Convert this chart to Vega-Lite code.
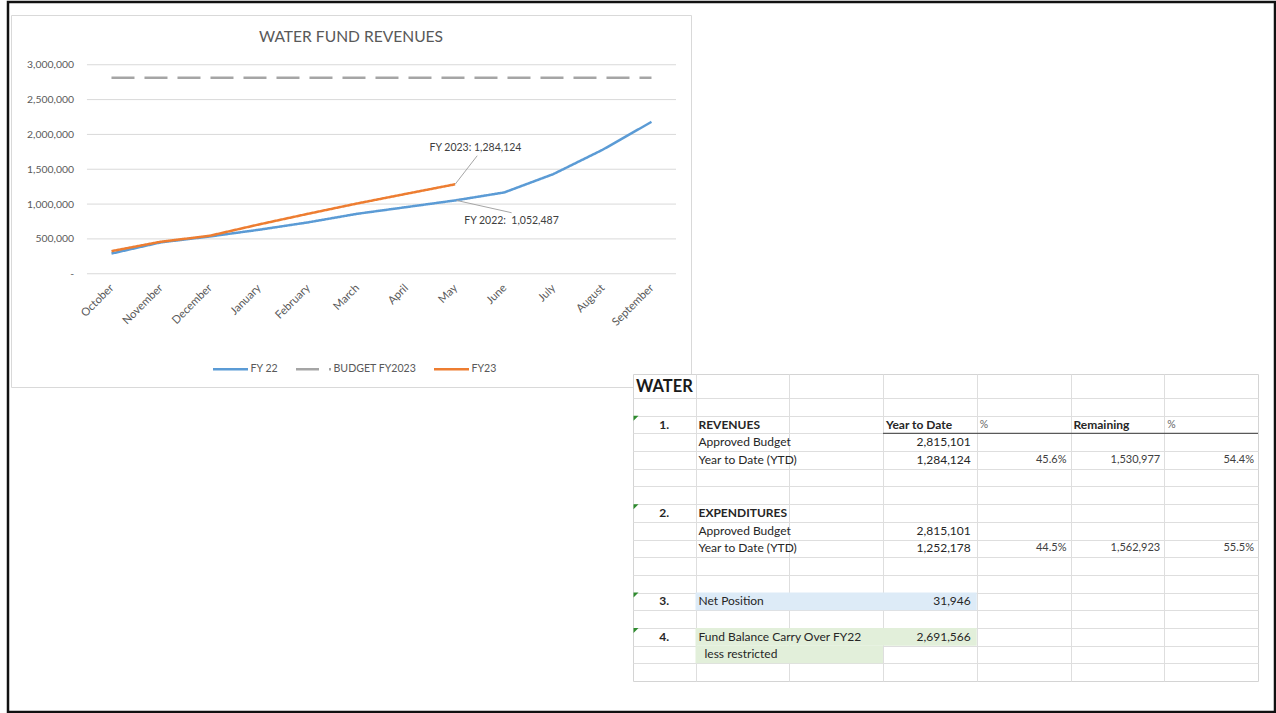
{
  "$schema": "https://vega.github.io/schema/vega-lite/v6.json",
  "background": "white",
  "padding": {"left": 6, "top": 0, "right": 0, "bottom": 0},
  "autosize": {"type": "pad"},
  "config": {"font": "Lato", "view": {"stroke": null}},
  "datasets": {
    "revenue": [
      {"month": "October", "idx": 0, "series": "FY 22", "value": 290000},
      {"month": "November", "idx": 1, "series": "FY 22", "value": 450000},
      {"month": "December", "idx": 2, "series": "FY 22", "value": 535000},
      {"month": "January", "idx": 3, "series": "FY 22", "value": 631000},
      {"month": "February", "idx": 4, "series": "FY 22", "value": 737000},
      {"month": "March", "idx": 5, "series": "FY 22", "value": 860000},
      {"month": "April", "idx": 6, "series": "FY 22", "value": 956000},
      {"month": "May", "idx": 7, "series": "FY 22", "value": 1052487},
      {"month": "June", "idx": 8, "series": "FY 22", "value": 1167000},
      {"month": "July", "idx": 9, "series": "FY 22", "value": 1430000},
      {"month": "August", "idx": 10, "series": "FY 22", "value": 1778000},
      {"month": "September", "idx": 11, "series": "FY 22", "value": 2180000},
      {"month": "October", "idx": 0, "series": "BUDGET FY2023", "value": 2815101},
      {"month": "November", "idx": 1, "series": "BUDGET FY2023", "value": 2815101},
      {"month": "December", "idx": 2, "series": "BUDGET FY2023", "value": 2815101},
      {"month": "January", "idx": 3, "series": "BUDGET FY2023", "value": 2815101},
      {"month": "February", "idx": 4, "series": "BUDGET FY2023", "value": 2815101},
      {"month": "March", "idx": 5, "series": "BUDGET FY2023", "value": 2815101},
      {"month": "April", "idx": 6, "series": "BUDGET FY2023", "value": 2815101},
      {"month": "May", "idx": 7, "series": "BUDGET FY2023", "value": 2815101},
      {"month": "June", "idx": 8, "series": "BUDGET FY2023", "value": 2815101},
      {"month": "July", "idx": 9, "series": "BUDGET FY2023", "value": 2815101},
      {"month": "August", "idx": 10, "series": "BUDGET FY2023", "value": 2815101},
      {"month": "September", "idx": 11, "series": "BUDGET FY2023", "value": 2815101},
      {"month": "October", "idx": 0, "series": "FY23", "value": 325000},
      {"month": "November", "idx": 1, "series": "FY23", "value": 459000},
      {"month": "December", "idx": 2, "series": "FY23", "value": 545000},
      {"month": "January", "idx": 3, "series": "FY23", "value": 707000},
      {"month": "February", "idx": 4, "series": "FY23", "value": 860000},
      {"month": "March", "idx": 5, "series": "FY23", "value": 1008000},
      {"month": "April", "idx": 6, "series": "FY23", "value": 1147000},
      {"month": "May", "idx": 7, "series": "FY23", "value": 1284124}
    ],
    "grid": [
      {"v": 0}, {"v": 500000}, {"v": 1000000}, {"v": 1500000},
      {"v": 2000000}, {"v": 2500000}, {"v": 3000000}
    ],
    "notes": [
      {"label": "FY 2023: 1,284,124", "x0": 7, "y0": 1284124, "xl": 7.45, "yl": 1694000, "xt": 7.415, "yt": 1808000},
      {"label": "FY 2022:\u00a0 1,052,487", "x0": 7.03, "y0": 1052487, "xl": 8.15, "yl": 876000, "xt": 8.148, "yt": 761000}
    ],
    "cols": [
      {"col": "A", "start": 0, "end": 2, "mid": 1},
      {"col": "B", "start": 2, "end": 5, "mid": 3.5},
      {"col": "C", "start": 5, "end": 8, "mid": 6.5},
      {"col": "D", "start": 8, "end": 11, "mid": 9.5},
      {"col": "E", "start": 11, "end": 14, "mid": 12.5},
      {"col": "F", "start": 14, "end": 17, "mid": 15.5},
      {"col": "G", "start": 17, "end": 20, "mid": 18.5}
    ],
    "cells": [
      {"row": -1, "col": "A", "text": "WATER", "kind": "title"},
      {"row": 1, "col": "A", "text": "1.", "kind": "index"},
      {"row": 1, "col": "B", "text": "REVENUES", "kind": "heading"},
      {"row": 1, "col": "D", "text": "Year to Date", "kind": "heading"},
      {"row": 1, "col": "E", "text": "%", "kind": "pct"},
      {"row": 1, "col": "F", "text": "Remaining", "kind": "heading"},
      {"row": 1, "col": "G", "text": "%", "kind": "pct"},
      {"row": 2, "col": "B", "text": "Approved Budget", "kind": "label"},
      {"row": 2, "col": "D", "text": "2,815,101", "kind": "amount"},
      {"row": 3, "col": "B", "text": "Year to Date (YTD)", "kind": "label"},
      {"row": 3, "col": "D", "text": "1,284,124", "kind": "amount"},
      {"row": 3, "col": "E", "text": "45.6%", "kind": "small"},
      {"row": 3, "col": "F", "text": "1,530,977", "kind": "small"},
      {"row": 3, "col": "G", "text": "54.4%", "kind": "small"},
      {"row": 6, "col": "A", "text": "2.", "kind": "index"},
      {"row": 6, "col": "B", "text": "EXPENDITURES", "kind": "heading"},
      {"row": 7, "col": "B", "text": "Approved Budget", "kind": "label"},
      {"row": 7, "col": "D", "text": "2,815,101", "kind": "amount"},
      {"row": 8, "col": "B", "text": "Year to Date (YTD)", "kind": "label"},
      {"row": 8, "col": "D", "text": "1,252,178", "kind": "amount"},
      {"row": 8, "col": "E", "text": "44.5%", "kind": "small"},
      {"row": 8, "col": "F", "text": "1,562,923", "kind": "small"},
      {"row": 8, "col": "G", "text": "55.5%", "kind": "small"},
      {"row": 11, "col": "A", "text": "3.", "kind": "index"},
      {"row": 11, "col": "B", "text": "Net Position", "kind": "label"},
      {"row": 11, "col": "D", "text": "31,946", "kind": "amount"},
      {"row": 13, "col": "A", "text": "4.", "kind": "index"},
      {"row": 13, "col": "B", "text": "Fund Balance Carry Over FY22", "kind": "label"},
      {"row": 13, "col": "D", "text": "2,691,566", "kind": "amount"},
      {"row": 14, "col": "B", "text": "less restricted", "kind": "indent"}
    ],
    "fills": [
      {"r1": 10.5, "r2": 11.5, "c1": "B", "c2": "D", "kind": "net"},
      {"r1": 12.5, "r2": 13.5, "c1": "B", "c2": "D", "kind": "fund"},
      {"r1": 13.5, "r2": 14.5, "c1": "B", "c2": "C", "kind": "fund"}
    ],
    "underline": [
      {"x1": 8, "x2": 20, "edge": 1.5}
    ]
  },
  "bounds": "flush",
  "spacing": 0,
  "resolve": {
    "scale": {"color": "independent", "strokeDash": "independent", "fill": "independent"},
    "legend": {"color": "independent", "strokeDash": "independent", "fill": "independent"}
  },
  "vconcat": [
    {
      "bounds": "flush",
      "spacing": 0,
      "vconcat": [
        {
          "width": 1267,
          "height": 710,
          "view": {"stroke": "#111111", "strokeWidth": 2.5},
          "data": {"values": []},
          "mark": {"type": "point", "opacity": 0},
          "encoding": {}
        }
      ]
    },
    {
      "width": 1,
      "height": 13,
      "view": {"stroke": "transparent", "strokeWidth": 0},
      "data": {"values": []},
      "mark": {"type": "point", "opacity": 0},
      "encoding": {}
    },
    {
      "bounds": "flush",
      "spacing": 0,
      "resolve": {
        "scale": {"color": "independent", "strokeDash": "independent"},
        "legend": {"color": "independent", "strokeDash": "independent"}
      },
      "hconcat": [
        {
          "width": 2.25,
          "height": 1,
          "view": {"stroke": "transparent", "strokeWidth": 0},
          "data": {"values": []},
          "mark": {"type": "point", "opacity": 0},
          "encoding": {}
        },
        {
          "width": 680,
          "height": 372,
          "view": {"stroke": "#d9d9d9", "strokeWidth": 1},
          "title": {
            "text": "WATER FUND REVENUES",
            "offset": -31,
            "fontSize": 15.6,
            "fontWeight": "normal",
            "color": "#595959",
            "anchor": "middle",
            "frame": "group",
            "font": "Lato"
          },
          "layer": [
            {
              "data": {"name": "grid"},
              "mark": {"type": "rule", "color": "#d9d9d9", "strokeWidth": 1},
              "encoding": {
                "x": {
                  "datum": -0.5, "type": "quantitative",
                  "scale": {"domain": [-2.047, 11.805], "nice": false, "zero": false},
                  "axis": {"orient": "bottom", "offset": -113.25, "values": [0, 1, 2, 3, 4, 5, 6, 7, 8, 9, 10, 11], "labelExpr": "['October','November','December','January','February','March','April','May','June','July','August','September'][datum.value]", "labelAngle": -45, "labelPadding": 8, "labelOffset": -4, "labelOverlap": false, "labelFlush": false, "labelBound": false, "ticks": false, "tickSize": 0, "domain": false, "grid": false, "title": null, "labelFontSize": 11.2, "labelColor": "#595959", "labelFont": "Lato"}
                },
                "x2": {"datum": 11.5},
                "y": {
                  "field": "v", "type": "quantitative",
                  "scale": {"domain": [-1625600, 3714100], "nice": false, "zero": false},
                  "axis": {"orient": "left", "offset": -76, "values": [0, 500000, 1000000, 1500000, 2000000, 2500000, 3000000], "labelExpr": "datum.value == 0 ? '-\u00a0\u00a0\u00a0\u00a0' : format(datum.value, ',')", "labelPadding": 13.5, "ticks": false, "tickSize": 0, "domain": false, "grid": false, "title": null, "labelFontSize": 10.4, "labelColor": "#595959", "labelFont": "Lato"}
                }
              }
            },
            {
              "data": {"name": "revenue"},
              "mark": {"type": "line", "strokeWidth": 2.5, "strokeJoin": "round"},
              "encoding": {
                "x": {
                  "field": "idx", "type": "quantitative",
                  "scale": {"domain": [-2.047, 11.805], "nice": false, "zero": false},
                  "axis": {"orient": "bottom", "offset": -113.25, "values": [0, 1, 2, 3, 4, 5, 6, 7, 8, 9, 10, 11], "labelExpr": "['October','November','December','January','February','March','April','May','June','July','August','September'][datum.value]", "labelAngle": -45, "labelPadding": 8, "labelOffset": -4, "labelOverlap": false, "labelFlush": false, "labelBound": false, "ticks": false, "tickSize": 0, "domain": false, "grid": false, "title": null, "labelFontSize": 11.2, "labelColor": "#595959", "labelFont": "Lato"}
                },
                "y": {
                  "field": "value", "type": "quantitative",
                  "scale": {"domain": [-1625600, 3714100], "nice": false, "zero": false},
                  "axis": {"orient": "left", "offset": -76, "values": [0, 500000, 1000000, 1500000, 2000000, 2500000, 3000000], "labelExpr": "datum.value == 0 ? '-\u00a0\u00a0\u00a0\u00a0' : format(datum.value, ',')", "labelPadding": 13.5, "ticks": false, "tickSize": 0, "domain": false, "grid": false, "title": null, "labelFontSize": 10.4, "labelColor": "#595959", "labelFont": "Lato"}
                },
                "color": {
                  "field": "series", "type": "nominal",
                  "scale": {"domain": ["FY 22", "BUDGET FY2023", "FY23"], "range": ["#5b9bd5", "#a5a5a5", "#ed7d31"]},
                  "legend": {"orient": "none", "legendX": 200.5, "legendY": 335, "direction": "horizontal", "title": null, "symbolType": "stroke", "symbolSize": 1225, "symbolStrokeWidth": 2.5, "labelFontSize": 10.6, "labelColor": "#595959", "labelFont": "Lato", "labelOffset": 1, "columnPadding": 12}
                },
                "strokeDash": {
                  "field": "series", "type": "nominal",
                  "scale": {"domain": ["FY 22", "BUDGET FY2023", "FY23"], "range": [[1, 0], [23, 10], [1, 0]]},
                  "legend": {"orient": "none", "legendX": 200.5, "legendY": 335, "direction": "horizontal", "title": null, "symbolType": "stroke", "symbolSize": 1225, "symbolStrokeWidth": 2.5, "labelFontSize": 10.6, "labelColor": "#595959", "labelFont": "Lato", "labelOffset": 1, "columnPadding": 12}
                }
              }
            },
            {
              "data": {"name": "notes"},
              "mark": {"type": "rule", "color": "#a6a6a6", "strokeWidth": 1},
              "encoding": {
                "x": {
                  "field": "x0", "type": "quantitative",
                  "scale": {"domain": [-2.047, 11.805], "nice": false, "zero": false},
                  "axis": {"orient": "bottom", "offset": -113.25, "values": [0, 1, 2, 3, 4, 5, 6, 7, 8, 9, 10, 11], "labelExpr": "['October','November','December','January','February','March','April','May','June','July','August','September'][datum.value]", "labelAngle": -45, "labelPadding": 8, "labelOffset": -4, "labelOverlap": false, "labelFlush": false, "labelBound": false, "ticks": false, "tickSize": 0, "domain": false, "grid": false, "title": null, "labelFontSize": 11.2, "labelColor": "#595959", "labelFont": "Lato"}
                },
                "x2": {"field": "xl"},
                "y": {
                  "field": "y0", "type": "quantitative",
                  "scale": {"domain": [-1625600, 3714100], "nice": false, "zero": false},
                  "axis": {"orient": "left", "offset": -76, "values": [0, 500000, 1000000, 1500000, 2000000, 2500000, 3000000], "labelExpr": "datum.value == 0 ? '-\u00a0\u00a0\u00a0\u00a0' : format(datum.value, ',')", "labelPadding": 13.5, "ticks": false, "tickSize": 0, "domain": false, "grid": false, "title": null, "labelFontSize": 10.4, "labelColor": "#595959", "labelFont": "Lato"}
                },
                "y2": {"field": "yl"}
              }
            },
            {
              "data": {"name": "notes"},
              "mark": {"type": "text", "fontSize": 10.5, "color": "#404040", "align": "center", "baseline": "middle", "font": "Lato"},
              "encoding": {
                "x": {
                  "field": "xt", "type": "quantitative",
                  "scale": {"domain": [-2.047, 11.805], "nice": false, "zero": false},
                  "axis": {"orient": "bottom", "offset": -113.25, "values": [0, 1, 2, 3, 4, 5, 6, 7, 8, 9, 10, 11], "labelExpr": "['October','November','December','January','February','March','April','May','June','July','August','September'][datum.value]", "labelAngle": -45, "labelPadding": 8, "labelOffset": -4, "labelOverlap": false, "labelFlush": false, "labelBound": false, "ticks": false, "tickSize": 0, "domain": false, "grid": false, "title": null, "labelFontSize": 11.2, "labelColor": "#595959", "labelFont": "Lato"}
                },
                "y": {
                  "field": "yt", "type": "quantitative",
                  "scale": {"domain": [-1625600, 3714100], "nice": false, "zero": false},
                  "axis": {"orient": "left", "offset": -76, "values": [0, 500000, 1000000, 1500000, 2000000, 2500000, 3000000], "labelExpr": "datum.value == 0 ? '-\u00a0\u00a0\u00a0\u00a0' : format(datum.value, ',')", "labelPadding": 13.5, "ticks": false, "tickSize": 0, "domain": false, "grid": false, "title": null, "labelFontSize": 10.4, "labelColor": "#595959", "labelFont": "Lato"}
                },
                "text": {"field": "label"}
              }
            }
          ]
        }
      ]
    },
    {
      "width": 1,
      "height": 358.75,
      "view": {"stroke": "transparent", "strokeWidth": 0},
      "data": {"values": []},
      "mark": {"type": "point", "opacity": 0},
      "encoding": {}
    },
    {
      "bounds": "flush",
      "spacing": 0,
      "hconcat": [
        {
          "width": 624.75,
          "height": 1,
          "view": {"stroke": "transparent", "strokeWidth": 0},
          "data": {"values": []},
          "mark": {"type": "point", "opacity": 0},
          "encoding": {}
        },
        {
          "width": 625,
          "height": 307,
          "view": {"fill": "white", "stroke": "#d4d4d4", "strokeWidth": 1},
          "data": {"name": "cells"},
          "transform": [
            {"lookup": "col", "from": {"data": {"name": "cols"}, "key": "col", "fields": ["start", "end", "mid"]}}
          ],
          "layer": [
            {
              "data": {"name": "fills"},
              "transform": [
                {"lookup": "c1", "from": {"data": {"name": "cols"}, "key": "col", "fields": ["start"]}, "as": ["x1"]},
                {"lookup": "c2", "from": {"data": {"name": "cols"}, "key": "col", "fields": ["end"]}, "as": ["x2"]}
              ],
              "mark": {"type": "rect"},
              "encoding": {
                "x": {"field": "x1", "type": "quantitative", "scale": {"domain": [0, 20], "nice": false, "zero": false}, "axis": {"orient": "top", "values": [2, 5, 8, 11, 14, 17], "grid": true, "gridColor": "#dedede", "labels": false, "ticks": false, "domain": false, "title": null}},
                "x2": {"field": "x2"},
                "y": {"field": "r1", "type": "quantitative", "scale": {"domain": [-1.857, 15.5], "reverse": true, "nice": false, "zero": false}, "axis": {"orient": "left", "values": [-0.5, 0.5, 1.5, 2.5, 3.5, 4.5, 5.5, 6.5, 7.5, 8.5, 9.5, 10.5, 11.5, 12.5, 13.5, 14.5], "grid": true, "gridColor": "#dedede", "labels": false, "ticks": false, "domain": false, "title": null}},
                "y2": {"field": "r2"},
                "fill": {"field": "kind", "type": "nominal", "scale": {"domain": ["net", "fund"], "range": ["#ddebf7", "#e2efda"]}, "legend": null}
              }
            },
            {
              "data": {"name": "underline"},
              "mark": {"type": "rule", "color": "#595959", "strokeWidth": 1.3},
              "encoding": {
                "x": {"field": "x1", "type": "quantitative", "scale": {"domain": [0, 20], "nice": false, "zero": false}, "axis": {"orient": "top", "values": [2, 5, 8, 11, 14, 17], "grid": true, "gridColor": "#dedede", "labels": false, "ticks": false, "domain": false, "title": null}},
                "x2": {"field": "x2"},
                "y": {"field": "edge", "type": "quantitative", "scale": {"domain": [-1.857, 15.5], "reverse": true, "nice": false, "zero": false}, "axis": {"orient": "left", "values": [-0.5, 0.5, 1.5, 2.5, 3.5, 4.5, 5.5, 6.5, 7.5, 8.5, 9.5, 10.5, 11.5, 12.5, 13.5, 14.5], "grid": true, "gridColor": "#dedede", "labels": false, "ticks": false, "domain": false, "title": null}}
              }
            },
            {
              "transform": [{"filter": "datum.kind == 'index'"}],
              "mark": {"type": "point", "shape": "M0.5,-8.8L5.5,-8.8L0.5,-3.8Z", "size": 4, "filled": true, "color": "#2e8b2e", "opacity": 1, "strokeWidth": 0},
              "encoding": {
                "x": {"field": "start", "type": "quantitative", "scale": {"domain": [0, 20], "nice": false, "zero": false}, "axis": {"orient": "top", "values": [2, 5, 8, 11, 14, 17], "grid": true, "gridColor": "#dedede", "labels": false, "ticks": false, "domain": false, "title": null}},
                "y": {"field": "row", "type": "quantitative", "scale": {"domain": [-1.857, 15.5], "reverse": true, "nice": false, "zero": false}, "axis": {"orient": "left", "values": [-0.5, 0.5, 1.5, 2.5, 3.5, 4.5, 5.5, 6.5, 7.5, 8.5, 9.5, 10.5, 11.5, 12.5, 13.5, 14.5], "grid": true, "gridColor": "#dedede", "labels": false, "ticks": false, "domain": false, "title": null}}
              }
            },
            {
              "transform": [{"filter": "datum.kind == 'title'"}],
              "mark": {"type": "text", "align": "left", "baseline": "middle", "dx": 3, "dy": -2, "fontSize": 16.5, "fontWeight": "bold", "color": "#1a1a1a", "font": "Lato"},
              "encoding": {
                "x": {"field": "start", "type": "quantitative", "scale": {"domain": [0, 20], "nice": false, "zero": false}, "axis": {"orient": "top", "values": [2, 5, 8, 11, 14, 17], "grid": true, "gridColor": "#dedede", "labels": false, "ticks": false, "domain": false, "title": null}},
                "y": {"field": "row", "type": "quantitative", "scale": {"domain": [-1.857, 15.5], "reverse": true, "nice": false, "zero": false}, "axis": {"orient": "left", "values": [-0.5, 0.5, 1.5, 2.5, 3.5, 4.5, 5.5, 6.5, 7.5, 8.5, 9.5, 10.5, 11.5, 12.5, 13.5, 14.5], "grid": true, "gridColor": "#dedede", "labels": false, "ticks": false, "domain": false, "title": null}},
                "text": {"field": "text"}
              }
            },
            {
              "transform": [{"filter": "datum.kind == 'index'"}],
              "mark": {"type": "text", "align": "center", "baseline": "middle", "fontSize": 12, "fontWeight": "bold", "color": "#262626", "font": "Lato"},
              "encoding": {
                "x": {"field": "mid", "type": "quantitative", "scale": {"domain": [0, 20], "nice": false, "zero": false}, "axis": {"orient": "top", "values": [2, 5, 8, 11, 14, 17], "grid": true, "gridColor": "#dedede", "labels": false, "ticks": false, "domain": false, "title": null}},
                "y": {"field": "row", "type": "quantitative", "scale": {"domain": [-1.857, 15.5], "reverse": true, "nice": false, "zero": false}, "axis": {"orient": "left", "values": [-0.5, 0.5, 1.5, 2.5, 3.5, 4.5, 5.5, 6.5, 7.5, 8.5, 9.5, 10.5, 11.5, 12.5, 13.5, 14.5], "grid": true, "gridColor": "#dedede", "labels": false, "ticks": false, "domain": false, "title": null}},
                "text": {"field": "text"}
              }
            },
            {
              "transform": [{"filter": "datum.kind == 'heading'"}],
              "mark": {"type": "text", "align": "left", "baseline": "middle", "dx": 3, "fontSize": 12, "fontWeight": "bold", "color": "#262626", "font": "Lato"},
              "encoding": {
                "x": {"field": "start", "type": "quantitative", "scale": {"domain": [0, 20], "nice": false, "zero": false}, "axis": {"orient": "top", "values": [2, 5, 8, 11, 14, 17], "grid": true, "gridColor": "#dedede", "labels": false, "ticks": false, "domain": false, "title": null}},
                "y": {"field": "row", "type": "quantitative", "scale": {"domain": [-1.857, 15.5], "reverse": true, "nice": false, "zero": false}, "axis": {"orient": "left", "values": [-0.5, 0.5, 1.5, 2.5, 3.5, 4.5, 5.5, 6.5, 7.5, 8.5, 9.5, 10.5, 11.5, 12.5, 13.5, 14.5], "grid": true, "gridColor": "#dedede", "labels": false, "ticks": false, "domain": false, "title": null}},
                "text": {"field": "text"}
              }
            },
            {
              "transform": [{"filter": "datum.kind == 'label'"}],
              "mark": {"type": "text", "align": "left", "baseline": "middle", "dx": 3, "fontSize": 12, "color": "#262626", "font": "Lato"},
              "encoding": {
                "x": {"field": "start", "type": "quantitative", "scale": {"domain": [0, 20], "nice": false, "zero": false}, "axis": {"orient": "top", "values": [2, 5, 8, 11, 14, 17], "grid": true, "gridColor": "#dedede", "labels": false, "ticks": false, "domain": false, "title": null}},
                "y": {"field": "row", "type": "quantitative", "scale": {"domain": [-1.857, 15.5], "reverse": true, "nice": false, "zero": false}, "axis": {"orient": "left", "values": [-0.5, 0.5, 1.5, 2.5, 3.5, 4.5, 5.5, 6.5, 7.5, 8.5, 9.5, 10.5, 11.5, 12.5, 13.5, 14.5], "grid": true, "gridColor": "#dedede", "labels": false, "ticks": false, "domain": false, "title": null}},
                "text": {"field": "text"}
              }
            },
            {
              "transform": [{"filter": "datum.kind == 'indent'"}],
              "mark": {"type": "text", "align": "left", "baseline": "middle", "dx": 9, "fontSize": 12, "color": "#262626", "font": "Lato"},
              "encoding": {
                "x": {"field": "start", "type": "quantitative", "scale": {"domain": [0, 20], "nice": false, "zero": false}, "axis": {"orient": "top", "values": [2, 5, 8, 11, 14, 17], "grid": true, "gridColor": "#dedede", "labels": false, "ticks": false, "domain": false, "title": null}},
                "y": {"field": "row", "type": "quantitative", "scale": {"domain": [-1.857, 15.5], "reverse": true, "nice": false, "zero": false}, "axis": {"orient": "left", "values": [-0.5, 0.5, 1.5, 2.5, 3.5, 4.5, 5.5, 6.5, 7.5, 8.5, 9.5, 10.5, 11.5, 12.5, 13.5, 14.5], "grid": true, "gridColor": "#dedede", "labels": false, "ticks": false, "domain": false, "title": null}},
                "text": {"field": "text"}
              }
            },
            {
              "transform": [{"filter": "datum.kind == 'pct'"}],
              "mark": {"type": "text", "align": "left", "baseline": "middle", "dx": 3, "fontSize": 10.5, "color": "#666666", "font": "Lato"},
              "encoding": {
                "x": {"field": "start", "type": "quantitative", "scale": {"domain": [0, 20], "nice": false, "zero": false}, "axis": {"orient": "top", "values": [2, 5, 8, 11, 14, 17], "grid": true, "gridColor": "#dedede", "labels": false, "ticks": false, "domain": false, "title": null}},
                "y": {"field": "row", "type": "quantitative", "scale": {"domain": [-1.857, 15.5], "reverse": true, "nice": false, "zero": false}, "axis": {"orient": "left", "values": [-0.5, 0.5, 1.5, 2.5, 3.5, 4.5, 5.5, 6.5, 7.5, 8.5, 9.5, 10.5, 11.5, 12.5, 13.5, 14.5], "grid": true, "gridColor": "#dedede", "labels": false, "ticks": false, "domain": false, "title": null}},
                "text": {"field": "text"}
              }
            },
            {
              "transform": [{"filter": "datum.kind == 'amount'"}],
              "mark": {"type": "text", "align": "right", "baseline": "middle", "dx": -6, "fontSize": 12, "color": "#262626", "font": "Lato"},
              "encoding": {
                "x": {"field": "end", "type": "quantitative", "scale": {"domain": [0, 20], "nice": false, "zero": false}, "axis": {"orient": "top", "values": [2, 5, 8, 11, 14, 17], "grid": true, "gridColor": "#dedede", "labels": false, "ticks": false, "domain": false, "title": null}},
                "y": {"field": "row", "type": "quantitative", "scale": {"domain": [-1.857, 15.5], "reverse": true, "nice": false, "zero": false}, "axis": {"orient": "left", "values": [-0.5, 0.5, 1.5, 2.5, 3.5, 4.5, 5.5, 6.5, 7.5, 8.5, 9.5, 10.5, 11.5, 12.5, 13.5, 14.5], "grid": true, "gridColor": "#dedede", "labels": false, "ticks": false, "domain": false, "title": null}},
                "text": {"field": "text"}
              }
            },
            {
              "transform": [{"filter": "datum.kind == 'small'"}],
              "mark": {"type": "text", "align": "right", "baseline": "middle", "dx": -4, "fontSize": 11, "color": "#404040", "font": "Lato"},
              "encoding": {
                "x": {"field": "end", "type": "quantitative", "scale": {"domain": [0, 20], "nice": false, "zero": false}, "axis": {"orient": "top", "values": [2, 5, 8, 11, 14, 17], "grid": true, "gridColor": "#dedede", "labels": false, "ticks": false, "domain": false, "title": null}},
                "y": {"field": "row", "type": "quantitative", "scale": {"domain": [-1.857, 15.5], "reverse": true, "nice": false, "zero": false}, "axis": {"orient": "left", "values": [-0.5, 0.5, 1.5, 2.5, 3.5, 4.5, 5.5, 6.5, 7.5, 8.5, 9.5, 10.5, 11.5, 12.5, 13.5, 14.5], "grid": true, "gridColor": "#dedede", "labels": false, "ticks": false, "domain": false, "title": null}},
                "text": {"field": "text"}
              }
            }
          ]
        }
      ]
    }
  ]
}
